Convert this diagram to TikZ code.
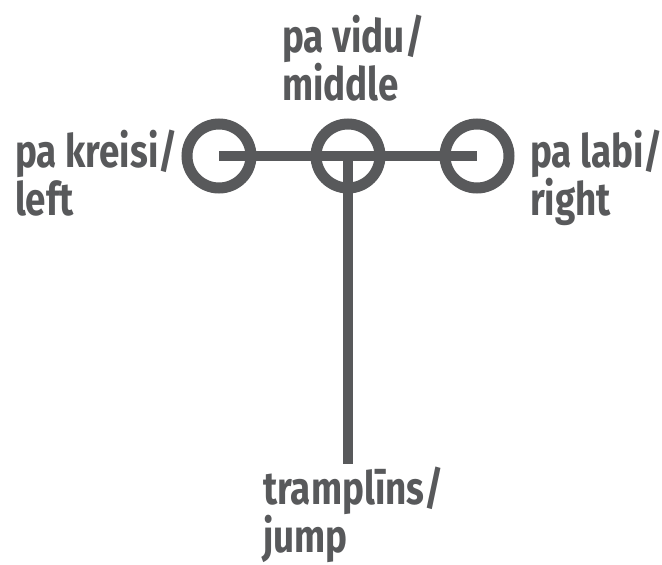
\documentclass[tikz,border=0pt]{standalone}
\usepackage{fontspec}
\setmainfont{Fira Sans}[FakeStretch=0.8]
\definecolor{signgray}{HTML}{58595B}
\begin{document}
\begin{tikzpicture}[x=1pt,y=-1pt,
  ring/.style={circle,draw=signgray,line width=11pt,minimum size=64pt,inner sep=0pt},
  bar/.style={draw=signgray,line width=10pt},
  lbl/.style={anchor=base west,align=left,text=signgray,inner sep=0pt,
    font=\fontsize{46}{48}\selectfont\bfseries}]
\useasboundingbox (0,0) rectangle (662,565);
\node[ring] (left) at (219,156) {};
\node[ring] (middle) at (348,156) {};
\node[ring] (right) at (477,156) {};
\coordinate (jumpend) at (348,464);
\draw[bar] (left.center) -- (right.center);
\draw[bar] (middle.center) -- (jumpend);
\node[lbl] (lefttext) at (15,215) {pa kreisi/\\left};
\node[lbl] (middletext) at (282,100) {pa vidu/\\middle};
\node[lbl] (righttext) at (530,215) {pa labi/\\right};
\node[lbl] (jumptext) at (263,552) {tramplīns/\\jump};
\end{tikzpicture}
\end{document}
